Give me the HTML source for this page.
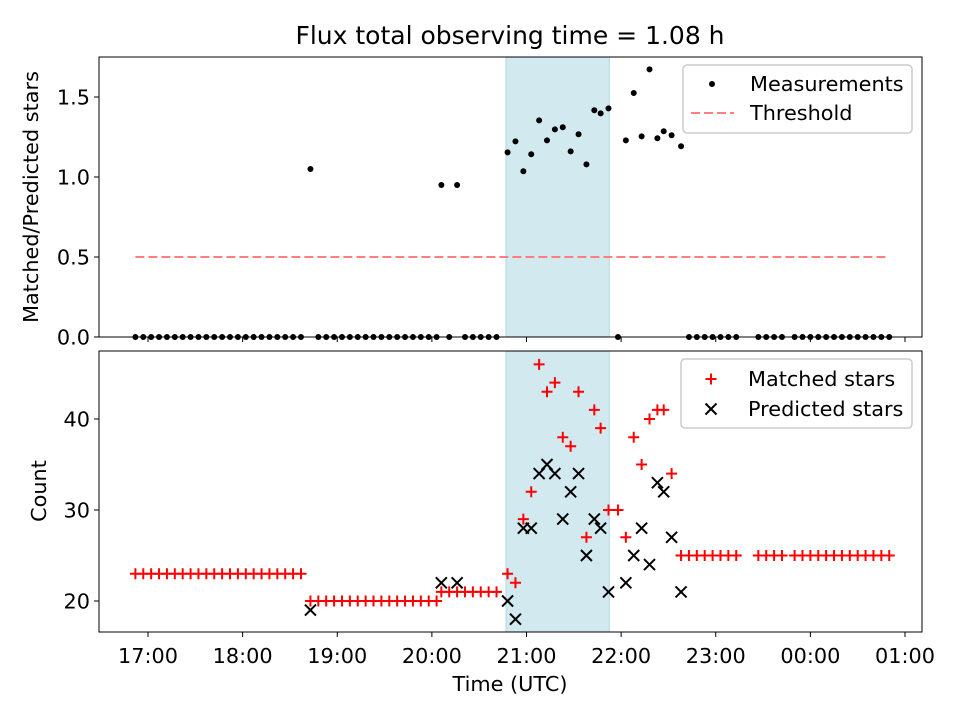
<!DOCTYPE html>
<html><head><meta charset="utf-8"><style>
body{margin:0;background:#fff}
svg text{font-family:"DejaVu Sans","Liberation Sans",sans-serif;fill:#000}
</style></head><body>
<svg id="chart" width="960" height="720" viewBox="0 0 960 720" xmlns="http://www.w3.org/2000/svg">
<rect width="960" height="720" fill="#fff"/>
<text x="510" y="44" font-size="25" text-anchor="middle">Flux total observing time = 1.08 h</text>
<g id="topAxes"></g><g id="botAxes"></g>
</svg>
<script>
// minutes since 17:00 UTC
const times = [-8,-3,2,7,12,17,22,27,32,37,42,47,52,57,62,67,72,77,82,87,92,97,
103,108,113,118,123,128,133,138,143,148,153,158,163,168,173,178,183,
186,191,196,201,206,211,216,221,
228,233,238,243,248,253,258,263,268,273,278,283,287,292,298,303,308,313,318,323,327,332,338,
343,348,353,358,363,368,373,387,392,397,402,410,415,420,425,430,435,440,445,450,455,460,465,470];
const ratio = [0,0,0,0,0,0,0,0,0,0,0,0,0,0,0,0,0,0,0,0,0,0,
1.05,0,0,0,0,0,0,0,0,0,0,0,0,0,0,0,0,
0.95,0,0.95,0,0,0,0,0,
1.154,1.223,1.036,1.142,1.354,1.229,1.298,1.311,1.160,1.267,1.079,1.417,1.398,1.429,0,1.229,1.525,1.254,1.673,1.242,1.286,1.261,1.192,
0,0,0,0,0,0,0,0,0,0,0,0,0,0,0,0,0,0,0,0,0,0,0,0];
const matched = [23,23,23,23,23,23,23,23,23,23,23,23,23,23,23,23,23,23,23,23,23,23,
20,20,20,20,20,20,20,20,20,20,20,20,20,20,20,20,20,
21,21,21,21,21,21,21,21,
23,22,29,32,46,43,44,38,37,43,27,41,39,30,30,27,38,35,40,41,41,34,25,
25,25,25,25,25,25,25,25,25,25,25,25,25,25,25,25,25,25,25,25,25,25,25,25];
const predicted = [null,null,null,null,null,null,null,null,null,null,null,null,null,null,null,null,null,null,null,null,null,null,
19,null,null,null,null,null,null,null,null,null,null,null,null,null,null,null,null,
22,null,22,null,null,null,null,null,
20,18,28,28,34,35,34,29,32,34,25,29,28,21,null,22,25,28,24,33,32,27,21,
null,null,null,null,null,null,null,null,null,null,null,null,null,null,null,null,null,null,null,null,null,null,null,null];
const threshold = 0.5;
const shadeSpan = [227, 292.5];
const xTicks = [0,60,120,180,240,300,360,420,480];
const xTickLabels = ["17:00","18:00","19:00","20:00","21:00","22:00","23:00","00:00","01:00"];
const topYTicks = [0,0.5,1.0,1.5];
const botYTicks = [20,30,40];

const NS="http://www.w3.org/2000/svg";
const L=99,R=922,FS=20.8;
const X=m=>148+m*94.625/60;
const Ytop=v=>337-v*160;
const Ybot=v=>601-(v-20)*9.1;
function el(p,tag,a,txt){const e=document.createElementNS(NS,tag);for(const k in a)e.setAttribute(k,a[k]);if(txt!=null)e.textContent=txt;p.appendChild(e);return e;}
const topG=document.getElementById('topAxes'),botG=document.getElementById('botAxes');

function axesFrame(g,y0,y1,labelTicks){
  const sx=X(shadeSpan[0]),ex=X(shadeSpan[1]);
  const s=el(g,'rect',{x:sx,y:y0,width:ex-sx,height:y1-y0,fill:'#d3e9f0',stroke:'#add8e6','stroke-width':1});
  
  
  xTicks.forEach((t,i)=>{
    const tk=el(g,'line',{x1:X(t),x2:X(t),y1:y1,y2:y1+5,stroke:'#000','stroke-width':1});
    
    
    if(labelTicks){
      const lb=el(g,'text',{x:X(t),y:y1+31,'font-size':FS,'text-anchor':'middle'},xTickLabels[i]);
      
      
    }
  });
}
function frame(g,y0,y1){
  const f=el(g,'rect',{x:L,y:y0,width:R-L,height:y1-y0,fill:'none',stroke:'#000','stroke-width':1});
  
  
}
// TOP
axesFrame(topG,57,337,false);
topYTicks.forEach(v=>{
  el(topG,'line',{x1:L-5,x2:L,y1:Ytop(v),y2:Ytop(v),stroke:'#000','stroke-width':1});
  const t=el(topG,'text',{x:L-9,y:Ytop(v)+7.5,'font-size':FS,'text-anchor':'end'},v.toFixed(1));
  
  
});
const th=el(topG,'line',{x1:X(times[0]),x2:X(times[times.length-1]),y1:Ytop(threshold),y2:Ytop(threshold),stroke:'#ff7f7f','stroke-width':2,'stroke-dasharray':'9,4'});


times.forEach((t,i)=>{
  const c=el(topG,'circle',{cx:X(t),cy:Ytop(ratio[i]),r:3,fill:'#000'});
  
  
});
frame(topG,57,337);
const ty=el(topG,'text',{transform:'translate(38,197) rotate(-90)','font-size':FS,'text-anchor':'middle'},'Matched/Predicted stars');


const lg=el(topG,'g',{});


el(lg,'rect',{x:683,y:65,width:229,height:68,rx:4,fill:'#fff','fill-opacity':0.8,stroke:'#ccc','stroke-width':1.5});
el(lg,'circle',{cx:712,cy:84,r:3,fill:'#000'});
el(lg,'text',{x:750,y:91,'font-size':FS},'Measurements');
el(lg,'line',{x1:691,x2:734,y1:113,y2:113,stroke:'#ff7f7f','stroke-width':2,'stroke-dasharray':'9,4'});
el(lg,'text',{x:750,y:120,'font-size':FS},'Threshold');

// BOTTOM
axesFrame(botG,351,632,true);
botYTicks.forEach(v=>{
  el(botG,'line',{x1:L-5,x2:L,y1:Ybot(v),y2:Ybot(v),stroke:'#000','stroke-width':1});
  const t=el(botG,'text',{x:L-9,y:Ybot(v)+7.5,'font-size':FS,'text-anchor':'end'},String(v));
  
  
});
function plus(g,x,y){return el(g,'path',{d:`M${x-5.5},${y}H${x+5.5}M${x},${y-5.5}V${y+5.5}`,stroke:'#f00','stroke-width':2,fill:'none'});}
function cross(g,x,y){return el(g,'path',{d:`M${x-5.5},${y-5.5}L${x+5.5},${y+5.5}M${x-5.5},${y+5.5}L${x+5.5},${y-5.5}`,stroke:'#000','stroke-width':2,fill:'none'});}
times.forEach((t,i)=>{
  const p=plus(botG,X(t),Ybot(matched[i]));
  
  
});
times.forEach((t,i)=>{
  if(predicted[i]==null)return;
  const p=cross(botG,X(t),Ybot(predicted[i]));
  
  
});
frame(botG,351,632);
const by=el(botG,'text',{transform:'translate(46,491) rotate(-90)','font-size':FS,'text-anchor':'middle'},'Count');


const bx=el(botG,'text',{x:510,y:691,'font-size':FS,'text-anchor':'middle'},'Time (UTC)');


const lg2=el(botG,'g',{});


el(lg2,'rect',{x:681,y:359,width:231,height:69,rx:4,fill:'#fff','fill-opacity':0.8,stroke:'#ccc','stroke-width':1.5});
plus(lg2,711,379);
el(lg2,'text',{x:748,y:386,'font-size':FS},'Matched stars');
cross(lg2,711,409);
el(lg2,'text',{x:748,y:416,'font-size':FS},'Predicted stars');
</script>
</body></html>
